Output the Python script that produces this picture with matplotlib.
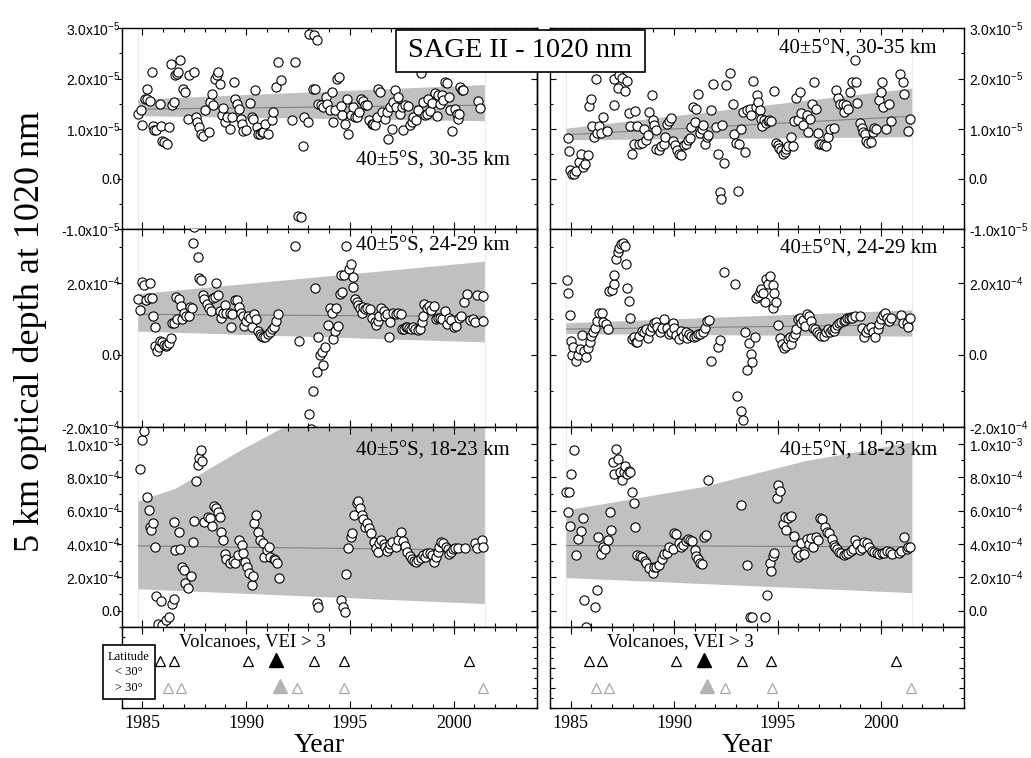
import numpy as np
import matplotlib
matplotlib.use("Agg")
import matplotlib.pyplot as plt
from matplotlib.patches import Rectangle
from matplotlib.ticker import MultipleLocator, FuncFormatter

# ---------------- data ----------------
# 40±5°S, 30-35 km  (units of 1e-5)
s_hi_yr = [
    1984.80, 1984.92, 1985.00, 1985.12, 1985.24, 1985.24, 1985.37, 1985.45, 1985.49, 1985.56,
    1985.65, 1985.85, 1985.88, 1985.93, 1986.06, 1986.20, 1986.30, 1986.36, 1986.44, 1986.54,
    1986.57, 1986.65, 1986.73, 1986.81, 1986.94, 1987.05, 1987.21, 1987.26, 1987.49, 1987.58,
    1987.65, 1987.74, 1987.81, 1987.90, 1988.02, 1988.21, 1988.26, 1988.34, 1988.42, 1988.50,
    1988.61, 1988.66, 1988.74, 1988.82, 1988.90, 1988.98, 1989.09, 1989.22, 1989.30, 1989.41,
    1989.46, 1989.54, 1989.65, 1989.73, 1989.80, 1989.86, 1989.99, 1990.18, 1990.27, 1990.35,
    1990.43, 1990.51, 1990.59, 1990.67, 1990.75, 1990.83, 1990.91, 1991.07, 1991.23, 1991.31,
    1991.42, 1991.55, 1991.66, 1992.19, 1992.35, 1992.48, 1992.64, 1992.72, 1992.79, 1993.00,
    1993.04, 1993.24, 1993.27, 1993.32, 1993.43, 1993.48, 1993.59, 1993.72, 1993.85, 1993.91,
    1994.04, 1994.12, 1994.20, 1994.28, 1994.36, 1994.47, 1994.55, 1994.63, 1994.76, 1994.84,
    1994.92, 1995.04, 1995.13, 1995.24, 1995.36, 1995.45, 1995.52, 1995.61, 1995.73, 1995.81,
    1995.94, 1996.05, 1996.13, 1996.21, 1996.29, 1996.37, 1996.45, 1996.53, 1996.69, 1996.77,
    1996.85, 1996.93, 1997.01, 1997.09, 1997.17, 1997.22, 1997.33, 1997.41, 1997.49, 1997.57,
    1997.65, 1997.78, 1997.90, 1997.98, 1998.06, 1998.18, 1998.30, 1998.41, 1998.54, 1998.62,
    1998.70, 1998.78, 1998.86, 1998.94, 1999.10, 1999.18, 1999.26, 1999.34, 1999.42, 1999.50,
    1999.58, 1999.70, 1999.79, 1999.82, 1999.90, 2000.06, 2000.14, 2000.22, 2000.27, 2000.31,
    2000.39, 2000.47, 2001.19, 2001.27]
s_hi_val = [
    1.29, 1.37, 1.08, 1.59, 1.79, 1.60, 1.55, 2.13, 1.05, 0.97,
    0.97, 1.49, 1.05, 0.75, 0.73, 0.70, 1.03, 2.30, 1.47, 1.53,
    2.07, 2.10, 2.13, 2.37, 1.80, 1.73, 1.20, 2.07, 2.13, 1.23,
    1.13, 1.03, 0.90, 0.85, 1.37, 0.93, 1.53, 1.70, 1.47, 2.00,
    2.07, 2.13, 1.90, 1.27, 1.42, 1.13, 1.23, 1.00, 1.23, 1.93,
    1.60, 1.50, 1.40, 1.20, 1.10, 0.95, 0.97, 1.51, 1.23, 1.20,
    1.77, 1.03, 0.90, 0.90, 0.93, 0.93, 1.10, 0.90, 1.17, 1.33,
    1.83, 2.33, 1.97, 1.17, 2.33, -0.75, -0.77, 0.65, 1.23, 1.13,
    2.89, 1.80, 2.87, 1.80, 2.77, 1.49, 1.47, 1.43, 1.63, 1.49,
    1.37, 1.73, 1.13, 1.37, 2.00, 2.03, 1.45, 1.27, 1.10, 1.60,
    0.90, 1.27, 1.43, 1.23, 1.23, 1.33, 1.60, 1.55, 1.47, 1.47,
    1.17, 1.09, 1.09, 1.07, 1.23, 1.80, 1.73, 1.33, 1.20, 1.33,
    0.80, 1.43, 1.00, 1.53, 1.77, 1.43, 1.63, 1.29, 1.43, 0.97,
    1.47, 1.45, 1.07, 1.13, 1.23, 1.17, 1.37, 2.12, 1.53, 1.28,
    1.30, 1.60, 1.35, 1.51, 1.71, 1.25, 1.67, 1.50, 1.67, 1.57,
    1.93, 1.91, 1.63, 1.37, 0.95, 1.40, 1.30, 1.20, 1.29, 1.83,
    1.77, 1.78, 1.55, 1.42]

# 40±5°N, 30-35 km  (units of 1e-5)
n_hi_yr = [
    1984.87, 1984.95, 1984.98, 1985.06, 1985.16, 1985.28, 1985.39, 1985.52, 1985.60, 1985.72,
    1985.82, 1985.88, 1985.98, 1986.04, 1986.13, 1986.21, 1986.26, 1986.37, 1986.47, 1986.58,
    1986.75, 1987.08, 1987.12, 1987.29, 1987.32, 1987.48, 1987.62, 1987.75, 1987.81, 1987.89,
    1987.97, 1988.06, 1988.11, 1988.22, 1988.30, 1988.43, 1988.55, 1988.63, 1988.74, 1988.79,
    1988.92, 1988.99, 1989.04, 1989.12, 1989.15, 1989.25, 1989.36, 1989.53, 1989.58, 1989.64,
    1989.77, 1989.85, 1989.97, 1990.07, 1990.13, 1990.26, 1990.35, 1990.46, 1990.56, 1990.67,
    1990.76, 1990.84, 1990.92, 1991.00, 1991.08, 1991.16, 1991.25, 1991.33, 1991.41, 1991.49,
    1991.57, 1991.65, 1991.77, 1991.87, 1992.03, 1992.14, 1992.23, 1992.26, 1992.31, 1992.42,
    1992.52, 1992.72, 1992.85, 1992.91, 1993.01, 1993.08, 1993.13, 1993.24, 1993.34, 1993.45,
    1993.54, 1993.67, 1993.73, 1993.83, 1993.94, 1994.03, 1994.06, 1994.16, 1994.22, 1994.27,
    1994.35, 1994.44, 1994.52, 1994.60, 1994.68, 1994.81, 1994.93, 1995.01, 1995.09, 1995.17,
    1995.25, 1995.34, 1995.42, 1995.50, 1995.63, 1995.74, 1995.79, 1995.91, 1995.99, 1996.07,
    1996.12, 1996.24, 1996.40, 1996.48, 1996.56, 1996.64, 1996.78, 1996.84, 1996.94, 1997.00,
    1997.10, 1997.22, 1997.33, 1997.43, 1997.54, 1997.71, 1997.82, 1997.92, 1998.03, 1998.15,
    1998.20, 1998.31, 1998.41, 1998.52, 1998.61, 1998.72, 1998.80, 1998.85, 1998.97, 1999.07,
    1999.13, 1999.23, 1999.26, 1999.39, 1999.51, 1999.59, 1999.67, 1999.75, 1999.88, 2000.00,
    2000.05, 2000.11, 2000.24, 2000.37, 2000.49, 2000.90, 2001.06, 2001.10, 2001.31, 2001.42]
n_hi_val = [
    0.81, 0.55, 0.17, 0.09, 0.09, 0.15, 0.33, 0.50, 0.23, 0.29,
    0.47, 1.45, 1.60, 1.05, 0.83, 2.00, 0.91, 1.05, 0.92, 1.23,
    0.95, 1.47, 2.00, 1.82, 2.07, 2.02, 1.75, 1.95, 1.32, 1.05,
    0.50, 0.70, 1.35, 1.05, 0.69, 0.71, 1.00, 0.78, 0.87, 1.33,
    1.67, 1.17, 1.07, 0.97, 0.60, 0.57, 0.65, 0.69, 0.83, 1.10,
    1.15, 1.22, 0.75, 0.67, 0.57, 0.49, 0.47, 0.67, 0.70, 0.77,
    0.82, 1.03, 1.43, 1.13, 1.40, 1.70, 0.91, 1.00, 1.07, 0.69,
    0.83, 0.87, 1.37, 1.90, 1.03, 0.50, -0.27, -0.40, 1.07, 0.31,
    1.87, 2.12, 1.50, 0.89, 0.71, -0.25, 0.70, 1.00, 1.33, 0.53,
    1.37, 1.40, 1.27, 1.95, 1.43, 1.67, 1.53, 1.37, 1.20, 1.05,
    1.17, 1.12, 1.15, 1.17, 1.15, 1.75, 0.71, 0.67, 0.62, 0.57,
    0.49, 0.53, 0.60, 0.65, 0.83, 0.65, 1.15, 1.62, 1.17, 1.73,
    1.32, 1.07, 1.27, 0.93, 1.19, 1.50, 1.93, 1.40, 0.91, 0.70,
    0.69, 0.67, 0.65, 0.83, 1.00, 1.02, 1.77, 1.62, 1.50, 1.49,
    1.33, 1.47, 1.40, 1.73, 1.93, 2.37, 1.93, 1.51, 1.11, 1.02,
    0.93, 0.89, 0.75, 0.71, 0.73, 0.93, 1.02, 1.00, 1.57, 1.73,
    1.93, 1.43, 1.00, 1.49, 1.15, 2.09, 1.93, 1.70, 0.95, 1.19]

# 40±5°S, 24-29 km  (units of 1e-4)
s_mid_yr = [
    1984.81, 1984.90, 1984.98, 1985.06, 1985.17, 1985.30, 1985.38, 1985.47, 1985.52, 1985.60,
    1985.63, 1985.71, 1985.79, 1985.87, 1985.96, 1986.04, 1986.12, 1986.20, 1986.28, 1986.36,
    1986.44, 1986.53, 1986.61, 1986.69, 1986.77, 1986.85, 1986.93, 1987.01, 1987.10, 1987.23,
    1987.29, 1987.39, 1987.42, 1987.50, 1987.67, 1987.75, 1987.83, 1987.91, 1987.99, 1988.11,
    1988.20, 1988.32, 1988.40, 1988.48, 1988.56, 1988.64, 1988.72, 1988.81, 1988.89, 1988.97,
    1989.05, 1989.21, 1989.29, 1989.34, 1989.46, 1989.57, 1989.67, 1989.73, 1989.83, 1989.90,
    1990.00, 1990.11, 1990.19, 1990.27, 1990.39, 1990.48, 1990.55, 1990.65, 1990.71, 1990.81,
    1990.92, 1991.04, 1991.14, 1991.25, 1991.33, 1991.46, 1991.53, 1992.34, 1992.55, 1993.04,
    1993.13, 1993.21, 1993.34, 1993.42, 1993.48, 1993.58, 1993.64, 1993.69, 1993.81, 1993.94,
    1994.05, 1994.13, 1994.18, 1994.26, 1994.35, 1994.43, 1994.51, 1994.56, 1994.64, 1994.72,
    1994.79, 1994.95, 1995.05, 1995.13, 1995.16, 1995.24, 1995.32, 1995.40, 1995.49, 1995.57,
    1995.65, 1995.73, 1995.81, 1995.97, 1996.06, 1996.19, 1996.25, 1996.35, 1996.41, 1996.51,
    1996.63, 1996.71, 1996.79, 1996.87, 1996.95, 1997.07, 1997.20, 1997.33, 1997.44, 1997.52,
    1997.60, 1997.69, 1997.77, 1997.85, 1997.93, 1998.04, 1998.14, 1998.26, 1998.37, 1998.47,
    1998.53, 1998.58, 1998.70, 1998.79, 1998.91, 1999.07, 1999.15, 1999.23, 1999.35, 1999.44,
    1999.56, 1999.67, 1999.77, 1999.88, 2000.00, 2000.13, 2000.26, 2000.37, 2000.49, 2000.65,
    2000.78, 2000.91, 2001.03, 2001.11, 2001.40, 2001.43]
s_mid_val = [
    1.55, 1.24, 2.04, 1.95, 1.52, 1.58, 2.01, 1.58, 1.09, 0.78,
    0.26, 0.12, 0.21, 0.40, 0.35, 0.29, 0.26, 0.29, 0.32, 0.47,
    0.88, 0.88, 1.60, 1.00, 1.55, 1.36, 1.00, 1.18, 1.09, 1.09,
    1.34, 1.30, 3.12, 3.55, 2.72, 2.13, 2.07, 1.67, 1.55, 1.43,
    1.30, 1.21, 1.58, 1.60, 2.01, 1.67, 1.23, 1.04, 1.18, 1.39,
    1.18, 1.18, 0.77, 1.15, 1.52, 1.52, 1.32, 1.18, 1.09, 0.81,
    0.95, 1.09, 1.02, 0.78, 1.13, 1.00, 0.67, 0.58, 0.53, 0.49,
    0.51, 0.58, 0.63, 0.72, 0.77, 0.95, 1.15, 3.02, 0.38, -1.63,
    -2.05, -0.99, 1.87, -0.48, 0.49, 0.01, 0.07, -0.27, 0.21, 0.84,
    1.30, 1.18, 0.44, 0.67, 1.30, 0.81, 1.69, 2.22, 1.76, 2.22,
    3.02, 2.38, 2.52, 2.17, 1.89, 1.55, 1.48, 1.39, 1.30, 1.18,
    1.32, 1.27, 1.30, 1.27, 1.02, 0.93, 0.84, 0.95, 1.09, 1.30,
    1.23, 1.09, 1.13, 0.49, 0.93, 1.18, 1.15, 1.18, 1.13, 0.72,
    0.72, 0.78, 0.78, 0.75, 0.72, 0.78, 0.72, 0.69, 0.72, 0.93,
    1.09, 1.43, 1.30, 1.36, 1.24, 1.36, 1.00, 1.04, 1.04, 1.00,
    1.23, 0.86, 1.04, 0.97, 0.78, 0.81, 1.04, 1.09, 1.46, 1.69,
    0.97, 1.00, 0.93, 1.67, 0.95, 1.64]

# 40±5°N, 24-29 km  (units of 1e-4)
n_mid_yr = [
    1984.82, 1984.87, 1984.98, 1985.03, 1985.06, 1985.11, 1985.28, 1985.36, 1985.44, 1985.57,
    1985.65, 1985.77, 1985.85, 1985.93, 1986.01, 1986.09, 1986.18, 1986.26, 1986.37, 1986.50,
    1986.58, 1986.70, 1986.80, 1986.86, 1986.99, 1987.08, 1987.12, 1987.19, 1987.29, 1987.35,
    1987.45, 1987.52, 1987.62, 1987.68, 1987.73, 1987.81, 1987.89, 1987.98, 1988.06, 1988.14,
    1988.22, 1988.30, 1988.43, 1988.55, 1988.63, 1988.74, 1988.83, 1988.92, 1989.04, 1989.12,
    1989.20, 1989.32, 1989.41, 1989.53, 1989.64, 1989.74, 1989.86, 1989.94, 1990.02, 1990.10,
    1990.23, 1990.35, 1990.43, 1990.56, 1990.63, 1990.72, 1990.84, 1990.95, 1991.05, 1991.16,
    1991.25, 1991.38, 1991.49, 1991.61, 1991.70, 1991.77, 1992.10, 1992.20, 1992.39, 1992.96,
    1993.05, 1993.24, 1993.34, 1993.41, 1993.50, 1993.62, 1993.70, 1993.78, 1993.90, 1993.95,
    1994.06, 1994.16, 1994.22, 1994.32, 1994.39, 1994.44, 1994.52, 1994.65, 1994.76, 1994.76,
    1994.85, 1994.93, 1995.04, 1995.14, 1995.21, 1995.30, 1995.42, 1995.50, 1995.58, 1995.66,
    1995.75, 1995.83, 1995.91, 1995.99, 1996.07, 1996.15, 1996.24, 1996.32, 1996.40, 1996.51,
    1996.61, 1996.73, 1996.81, 1996.89, 1997.00, 1997.10, 1997.22, 1997.33, 1997.43, 1997.54,
    1997.63, 1997.71, 1997.79, 1997.87, 1997.95, 1998.08, 1998.20, 1998.28, 1998.36, 1998.44,
    1998.53, 1998.61, 1998.74, 1998.97, 1999.07, 1999.18, 1999.26, 1999.39, 1999.51, 1999.59,
    1999.72, 1999.84, 1999.92, 2000.00, 2000.08, 2000.20, 2000.28, 2000.37, 2000.49, 2000.98,
    2001.06, 2001.23, 2001.31, 2001.42]
n_mid_val = [
    2.08, 1.71, 1.12, 0.38, 0.01, 0.21, -0.18, 0.01, 0.17, 0.55,
    0.12, -0.05, 0.19, 0.35, 0.53, 0.63, 0.76, 0.95, 1.18, 1.18,
    0.93, 0.86, 0.72, 1.78, 1.80, 1.96, 2.22, 2.68, 2.87, 2.98,
    3.09, 3.12, 3.02, 2.52, 1.85, 1.50, 1.02, 0.44, 0.49, 0.35,
    0.35, 0.53, 0.67, 0.65, 0.72, 0.47, 0.67, 0.78, 0.90, 0.93,
    0.78, 0.63, 0.75, 1.00, 0.76, 0.58, 0.65, 0.88, 0.76, 0.56,
    0.44, 0.67, 0.53, 0.63, 0.47, 0.58, 0.53, 0.49, 0.53, 0.58,
    0.58, 0.63, 0.75, 0.95, 0.97, -0.18, 0.21, 0.41, 2.31, 1.96,
    -1.15, -1.56, -1.80, 0.63, -0.41, 0.32, 0.03, -0.20, 0.51, 1.58,
    1.64, 1.76, 1.82, 1.73, 1.48, 2.10, 1.98, 2.19, 1.94, 1.30,
    1.71, 1.48, 0.84, 0.47, 0.30, 0.19, 0.26, 0.44, 0.49, 0.30,
    0.49, 0.58, 0.72, 1.00, 1.04, 0.90, 0.97, 0.81, 1.15, 1.09,
    0.95, 0.76, 0.72, 0.63, 0.58, 0.53, 0.53, 0.63, 0.72, 0.63,
    0.69, 0.67, 0.75, 0.84, 0.90, 0.93, 0.95, 0.97, 1.02, 1.04,
    1.06, 1.04, 1.09, 1.09, 0.75, 0.49, 0.63, 0.72, 0.78, 0.63,
    0.51, 0.72, 0.86, 1.00, 1.12, 1.18, 1.02, 0.95, 1.04, 1.12,
    0.90, 0.90, 0.78, 1.04]

# 40±5°S, 18-23 km  (units of 1e-4)
s_lo_yr = [
    1984.90, 1984.98, 1985.06, 1985.22, 1985.30, 1985.38, 1985.43, 1985.52, 1985.60, 1985.67,
    1985.75, 1985.88, 1985.95, 1986.12, 1986.30, 1986.42, 1986.50, 1986.53, 1986.57, 1986.77,
    1986.82, 1986.93, 1987.01, 1987.06, 1987.18, 1987.34, 1987.42, 1987.50, 1987.58, 1987.67,
    1987.71, 1987.83, 1987.88, 1987.99, 1988.15, 1988.24, 1988.37, 1988.45, 1988.53, 1988.64,
    1988.76, 1988.81, 1988.89, 1988.97, 1989.05, 1989.21, 1989.38, 1989.46, 1989.62, 1989.67,
    1989.78, 1989.83, 1989.95, 1990.03, 1990.16, 1990.27, 1990.32, 1990.39, 1990.48, 1990.55,
    1990.68, 1990.81, 1990.88, 1991.01, 1991.09, 1991.17, 1991.33, 1991.41, 1991.49, 1991.58,
    1993.40, 1993.48, 1994.55, 1994.65, 1994.74, 1994.79, 1994.92, 1995.05, 1995.11, 1995.21,
    1995.32, 1995.40, 1995.49, 1995.57, 1995.65, 1995.73, 1995.81, 1995.93, 1996.02, 1996.14,
    1996.25, 1996.35, 1996.41, 1996.51, 1996.63, 1996.71, 1996.79, 1996.87, 1996.95, 1997.03,
    1997.20, 1997.33, 1997.44, 1997.55, 1997.65, 1997.77, 1997.88, 1997.98, 1998.09, 1998.21,
    1998.30, 1998.42, 1998.53, 1998.63, 1998.74, 1998.86, 1998.96, 1999.07, 1999.15, 1999.23,
    1999.31, 1999.40, 1999.48, 1999.61, 1999.72, 1999.80, 1999.88, 1999.97, 2000.05, 2000.21,
    2000.54, 2001.03, 2001.11, 2001.35, 2001.43]
s_lo_val = [
    8.48, 10.2, 10.74, 6.8, 6.04, 5.04, 4.84, 5.24, 3.84, 0.9,
    -0.8, 0.57, -0.85, -0.55, -0.4, 0.38, 0.71, 5.34, 3.64, 4.74,
    3.68, 2.64, 2.44, 1.64, 1.34, 2.08, 4.14, 5.4, 7.74, 8.74,
    9.14, 9.6, 8.94, 5.34, 5.64, 5.54, 5.08, 6.24, 6.14, 5.94,
    5.64, 4.74, 4.24, 3.4, 3.08, 2.88, 3.0, 2.84, 3.34, 4.24,
    3.94, 3.44, 2.94, 2.64, 2.24, 1.54, 2.08, 5.24, 5.74, 4.74,
    4.24, 4.04, 3.24, 3.64, 3.84, 3.24, 3.08, 3.04, 2.84, 1.94,
    0.45, 0.2, 0.65, 0.2, -0.1, 2.2, 3.74, 4.44, 4.64, 5.74,
    6.44, 6.54, 6.14, 5.74, 5.48, 5.04, 5.28, 4.94, 4.64, 4.14,
    3.74, 3.54, 4.04, 4.24, 4.0, 3.84, 3.6, 3.74, 4.0, 4.14,
    3.84, 4.24, 4.74, 4.2, 3.88, 3.54, 3.28, 3.08, 3.0, 2.94,
    3.04, 3.14, 3.34, 3.24, 3.44, 3.48, 3.34, 2.94, 3.24, 3.54,
    3.84, 4.14, 4.04, 3.84, 3.68, 3.4, 3.54, 3.68, 3.74, 3.74,
    3.74, 4.08, 3.74, 4.24, 3.84]

# 40±5°N, 18-23 km  (units of 1e-4)
n_lo_yr = [
    1984.79, 1984.87, 1984.95, 1984.97, 1985.03, 1985.19, 1985.28, 1985.36, 1985.49, 1985.60,
    1985.65, 1985.75, 1986.18, 1986.26, 1986.34, 1986.47, 1986.58, 1986.67, 1986.80, 1986.91,
    1986.96, 1987.03, 1987.12, 1987.19, 1987.29, 1987.40, 1987.48, 1987.57, 1987.65, 1987.73,
    1987.81, 1987.89, 1987.98, 1988.06, 1988.11, 1988.22, 1988.34, 1988.47, 1988.60, 1988.66,
    1988.79, 1988.96, 1989.04, 1989.15, 1989.28, 1989.41, 1989.53, 1989.64, 1989.77, 1989.94,
    1990.02, 1990.10, 1990.23, 1990.35, 1990.43, 1990.56, 1990.67, 1990.76, 1990.89, 1991.00,
    1991.08, 1991.16, 1991.25, 1991.33, 1991.44, 1991.54, 1991.66, 1993.21, 1993.50, 1993.67,
    1993.75, 1994.40, 1994.48, 1994.65, 1994.68, 1994.76, 1994.85, 1994.98, 1995.04, 1995.14,
    1995.25, 1995.34, 1995.42, 1995.50, 1995.63, 1995.79, 1995.91, 1995.99, 1996.07, 1996.15,
    1996.29, 1996.40, 1996.51, 1996.61, 1996.73, 1996.84, 1996.97, 1997.05, 1997.17, 1997.30,
    1997.38, 1997.50, 1997.63, 1997.71, 1997.79, 1997.87, 1997.95, 1998.08, 1998.20, 1998.31,
    1998.41, 1998.53, 1998.64, 1998.74, 1998.85, 1998.97, 1999.07, 1999.18, 1999.30, 1999.43,
    1999.56, 1999.67, 1999.79, 1999.92, 2000.05, 2000.16, 2000.28, 2000.41, 2000.54, 2000.87,
    2000.98, 2001.10, 2001.23, 2001.31, 2001.42]
n_lo_val = [
    7.08, 5.94, 7.08, 5.08, 8.2, 9.6, 3.34, 4.28, 4.78, 5.54,
    0.65, -0.97, 0.24, 1.21, 4.44, 3.4, 3.84, 3.68, 4.24, 5.94,
    4.84, 8.88, 8.2, 9.68, 9.08, 8.28, 7.8, 8.28, 8.68, 8.2,
    8.34, 8.28, 7.08, 6.44, 5.0, 3.34, 3.28, 3.24, 3.0, 2.84,
    2.54, 2.28, 2.6, 2.64, 2.74, 3.08, 3.4, 3.48, 3.8, 3.68,
    4.64, 4.6, 4.08, 3.84, 3.94, 4.2, 4.28, 4.24, 4.2, 3.64,
    3.28, 3.08, 2.88, 2.8, 4.4, 4.54, 7.84, 6.34, 2.74, -0.4,
    -0.4, -0.4, 0.91, 2.88, 2.4, 3.28, 3.48, 6.74, 7.54, 7.14,
    5.2, 5.6, 4.84, 5.54, 5.68, 4.48, 3.64, 3.24, 3.34, 4.04,
    3.4, 4.28, 4.0, 4.34, 3.84, 4.44, 4.24, 5.54, 5.48, 5.04,
    4.74, 4.68, 4.28, 3.94, 3.84, 3.68, 3.54, 3.44, 3.34, 3.4,
    3.48, 3.6, 3.68, 4.24, 4.0, 3.64, 3.74, 4.14, 4.04, 3.84,
    3.6, 3.54, 3.44, 3.4, 3.44, 3.48, 3.6, 3.54, 3.4, 3.44,
    3.6, 4.4, 3.68, 3.8, 3.84]

# trend lines and uncertainty bands (same units as the panel)
band_yr = [1984.8, 2001.5]
s_hi_trend, s_hi_upper, s_hi_lower = [1.39, 1.47], [1.58, 1.87], [1.25, 1.15]
n_hi_trend, n_hi_upper, n_hi_lower = [0.88, 1.25], [1.00, 1.80], [0.77, 0.83]
s_mid_trend, s_mid_upper, s_mid_lower = [1.13, 1.07], [1.69, 2.59], [0.65, 0.35]
n_mid_trend, n_mid_upper, n_mid_lower = [0.72, 0.84], [0.88, 1.24], [0.58, 0.51]
s_lo_trend, s_lo_lower = [3.88, 3.62], [1.28, 0.40]
s_lo_upper_yr = [1984.8, 1986.6, 1988.25, 1989.9, 1992.15, 1995.0, 1998.0, 2001.5]
s_lo_upper = [6.54, 7.3, 8.5, 9.7, 11.2, 13.5, 16.5, 20.0]
n_lo_trend, n_lo_lower = [3.90, 3.82], [1.95, 1.05]
n_lo_upper_yr = [1984.8, 1991.4, 1996.3, 2001.5]
n_lo_upper = [6.0, 7.4, 8.94, 10.08]

# volcanoes, VEI > 3
low_lat_yr = [1985.87, 1986.53, 1990.11, 1993.29, 1994.70, 2000.73]
low_lat_major = [1991.45]
high_lat_yr = [1986.23, 1986.88, 1992.47, 1994.72, 2001.43]
high_lat_major = [1991.61]

# ---------------- styling ----------------
SERIF = "Liberation Serif"
SANS = "Liberation Sans"
BAND = "#c0c0c0"
TREND = "#808080"
FAINT = "#ececec"
VOLC_GRAY = "#a8a8a8"

plt.rcParams["font.family"] = [SERIF, "DejaVu Serif"]
plt.rcParams["mathtext.fontset"] = "custom"
plt.rcParams["mathtext.rm"] = SANS
plt.rcParams["mathtext.it"] = SANS + ":italic"
plt.rcParams["mathtext.bf"] = SANS + ":bold"
plt.rcParams["axes.linewidth"] = 1.0

COL_X = [0.1180, 0.5333]
COL_W = [0.4025, 0.4016]
ROWS = [(0.6979, 0.2646), (0.4367, 0.2612), (0.1724, 0.2642)]
STRIP = (0.0660, 0.1065)


def sci_label(v, pos):
    if abs(v) < 1e-12:
        return "0.0"
    e = int(np.floor(np.log10(abs(v)) + 1e-9))
    m = v / 10.0 ** e
    return f"{m:.1f}x10$^{{{e}}}$"


def style_x(ax, labels=False):
    ax.set_xlim(1984, 2004)
    ax.xaxis.set_major_locator(MultipleLocator(5))
    ax.xaxis.set_minor_locator(MultipleLocator(1))
    ax.tick_params(axis="x", which="both", direction="in", top=True,
                   bottom=True, labelbottom=labels, labelsize=13,
                   labelfontfamily=SERIF, pad=5)
    ax.tick_params(axis="x", which="major", length=5, width=0.8)
    ax.tick_params(axis="x", which="minor", length=3, width=0.8)


def style_y(ax, col, major, minor):
    ax.yaxis.set_major_locator(MultipleLocator(major))
    ax.yaxis.set_minor_locator(MultipleLocator(minor))
    ax.yaxis.set_major_formatter(FuncFormatter(sci_label))
    if col == 0:
        ax.tick_params(axis="y", which="both", direction="out", left=True,
                       right=False, labelleft=True, labelsize=10,
                       labelfontfamily=SANS, pad=-2.5, width=0.8)
        ax.tick_params(axis="y", which="major", length=3.5)
        ax.tick_params(axis="y", which="minor", length=2)
        sec = ax.secondary_yaxis("right")
        sec.yaxis.set_major_locator(MultipleLocator(major))
        sec.yaxis.set_minor_locator(MultipleLocator(minor))
        sec.tick_params(axis="y", which="both", direction="in",
                        labelright=False, width=0.8)
        sec.tick_params(axis="y", which="major", length=4)
        sec.tick_params(axis="y", which="minor", length=2.2)
    else:
        ax.tick_params(axis="y", which="both", direction="in", left=True,
                       right=True, labelleft=False, labelright=True,
                       labelsize=10, labelfontfamily=SANS, pad=3.5, width=0.8)
        ax.tick_params(axis="y", which="major", length=4)
        ax.tick_params(axis="y", which="minor", length=2.2)


def draw_panel(ax, yrs, vals, scale, trend, up_yr, upper, lower):
    s = scale
    ax.axvline(band_yr[0], color=FAINT, lw=0.8, zorder=0.5)
    ax.axvline(band_yr[1], color=FAINT, lw=0.8, zorder=0.5)
    poly_x = list(up_yr) + band_yr[::-1]
    poly_y = [u * s for u in upper] + [lo * s for lo in lower[::-1]]
    ax.fill(poly_x, poly_y, color=BAND, lw=0, zorder=1)
    ax.plot(band_yr, [t * s for t in trend], color=TREND, lw=0.8, zorder=2)
    ax.plot(yrs, np.array(vals) * s, ls="none", marker="o", ms=6.6,
            mfc="white", mec="black", mew=0.8, zorder=3)


fig = plt.figure(figsize=(10.31, 7.58), dpi=100)

panels = [
    (0, 0, s_hi_yr, s_hi_val, 1e-5, s_hi_trend, band_yr, s_hi_upper, s_hi_lower,
     (-1e-5, 3e-5), 1e-5, 0.5e-5, "40\u00b15\u00b0S, 30-35 km", 0.338),
    (0, 1, n_hi_yr, n_hi_val, 1e-5, n_hi_trend, band_yr, n_hi_upper, n_hi_lower,
     (-1e-5, 3e-5), 1e-5, 0.5e-5, "40\u00b15\u00b0N, 30-35 km", 0.895),
    (1, 0, s_mid_yr, s_mid_val, 1e-4, s_mid_trend, band_yr, s_mid_upper, s_mid_lower,
     (-2e-4, 3.5e-4), 2e-4, 1e-4, "40\u00b15\u00b0S, 24-29 km", 0.915),
    (1, 1, n_mid_yr, n_mid_val, 1e-4, n_mid_trend, band_yr, n_mid_upper, n_mid_lower,
     (-2e-4, 3.5e-4), 2e-4, 1e-4, "40\u00b15\u00b0N, 24-29 km", 0.90),
    (2, 0, s_lo_yr, s_lo_val, 1e-4, s_lo_trend, s_lo_upper_yr, s_lo_upper, s_lo_lower,
     (-1e-4, 1.1e-3), 2e-4, 1e-4, "40\u00b15\u00b0S, 18-23 km", 0.882),
    (2, 1, n_lo_yr, n_lo_val, 1e-4, n_lo_trend, n_lo_upper_yr, n_lo_upper, n_lo_lower,
     (-1e-4, 1.1e-3), 2e-4, 1e-4, "40\u00b15\u00b0N, 18-23 km", 0.882),
]

for (row, col, yrs, vals, scale, trend, up_yr, upper, lower,
     ylim, major, minor, label, label_y) in panels:
    bottom, height = ROWS[row]
    ax = fig.add_axes([COL_X[col], bottom, COL_W[col], height])
    draw_panel(ax, yrs, vals, scale, trend, up_yr, upper, lower)
    ax.set_ylim(*ylim)
    style_x(ax)
    style_y(ax, col, major, minor)
    ax.text(0.935, label_y, label, transform=ax.transAxes, ha="right",
            va="center", fontsize=15, family=SERIF, zorder=5)

# volcano strips
for col in (0, 1):
    ax = fig.add_axes([COL_X[col], STRIP[0], COL_W[col], STRIP[1]])
    ax.set_ylim(0, 1)
    style_x(ax, labels=True)
    ax.yaxis.set_major_locator(MultipleLocator(0.25))
    ax.yaxis.set_minor_locator(MultipleLocator(0.125))
    ax.tick_params(axis="y", which="both", direction="in", left=True,
                   right=True, labelleft=False, labelright=False, width=0.8)
    ax.tick_params(axis="y", which="major", length=3.5)
    ax.tick_params(axis="y", which="minor", length=2)
    ax.plot(low_lat_yr, [0.58] * len(low_lat_yr), ls="none", marker="^",
            ms=6.5, mfc="white", mec="black", mew=0.9)
    ax.plot(low_lat_major, [0.6] * len(low_lat_major), ls="none", marker="^",
            ms=10, color="black")
    ax.plot(high_lat_yr, [0.25] * len(high_lat_yr), ls="none", marker="^",
            ms=6.5, mfc="white", mec=VOLC_GRAY, mew=0.9)
    ax.plot(high_lat_major, [0.27] * len(high_lat_major), ls="none",
            marker="^", ms=10, color="#b4b4b4")
    ax.text(1990.3, 0.82, "Volcanoes, VEI > 3", ha="center", va="center",
            fontsize=13.5, family=SERIF)

# title box
fig.patches.append(Rectangle((0.3841, 0.9054), 0.2415, 0.0554,
                             transform=fig.transFigure, facecolor="white",
                             edgecolor="black", lw=1.2, zorder=10))
fig.text(0.5049, 0.9331, "SAGE II - 1020 nm", ha="center", va="center",
         fontsize=20.5, family=SERIF, zorder=11)

# latitude legend box
fig.patches.append(Rectangle((0.0999, 0.0778), 0.0504, 0.0712,
                             transform=fig.transFigure, facecolor="white",
                             edgecolor="black", lw=1.2, zorder=10))
for ty, txt in [(0.1332, "Latitude"), (0.1135, "< 30\u00b0"), (0.0930, "> 30\u00b0")]:
    fig.text(0.1251, ty, txt, ha="center", va="center", fontsize=9,
             family=SERIF, zorder=11)

# axis titles
fig.text(0.029, 0.5633, "5 km optical depth at 1020 nm", rotation=90,
         ha="center", va="center", fontsize=26, family=SERIF)
fig.text(0.3099, 0.0, "Year", ha="center", va="bottom", fontsize=20,
         family=SERIF)
fig.text(0.7252, 0.0, "Year", ha="center", va="bottom", fontsize=20,
         family=SERIF)

fig.savefig("out.png", dpi=100)
